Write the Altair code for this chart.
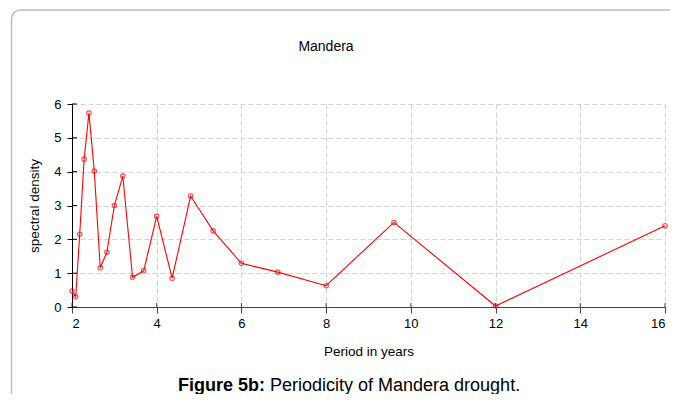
import altair as alt
import pandas as pd

# Periods (years) and spectral density values
periods = [2.0, 2.087, 2.182, 2.286, 2.4, 2.526, 2.667, 2.824, 3.0, 3.2, 3.429,
           3.692, 4.0, 4.364, 4.8, 5.333, 6.0, 6.857, 8.0, 9.6, 12.0, 16.0]
density = [0.47, 0.30, 2.15, 4.37, 5.73, 4.02, 1.16, 1.62, 3.0, 3.87, 0.88,
           1.07, 2.68, 0.85, 3.28, 2.25, 1.29, 1.03, 0.63, 2.5, 0.03, 2.40]
x_ticks = [2, 4, 6, 8, 10, 12, 14, 16]
y_ticks = [0, 1, 2, 3, 4, 5, 6]

title_text = "Mandera"
x_title = "Period in years"
y_title = "spectral density"
caption_bold = "Figure 5b:"
caption_rest = "Periodicity of Mandera drought."

W, H = 593, 203
FONT = "Liberation Sans"
RED = "#ff0000"

df = pd.DataFrame({"period": periods, "density": density})
xt = pd.DataFrame({"v": x_ticks})
yt = pd.DataFrame({"v": y_ticks})
one = pd.DataFrame({"k": [0]})

xscale = alt.Scale(domain=[2, 16], nice=False, zero=False)
yscale = alt.Scale(domain=[0, 6], nice=False)

x_axis = alt.Axis(values=x_ticks, title=x_title, grid=True, gridColor="#d2d2d2",
                  gridDash=[5, 3], gridWidth=1, domainColor="#444", tickColor="#444",
                  tickSize=6, labelPadding=4, labelFont=FONT, labelFontSize=13,
                  labelColor="#000", labelOverlap=False, titleFont=FONT, titleFontSize=13.5,
                  titleFontWeight="normal", titleColor="#000",
                  titleBaseline="alphabetic", titleY=48)
y_axis = alt.Axis(values=y_ticks, title=y_title, grid=True, gridColor="#d2d2d2",
                  gridDash=[5, 3], gridWidth=1, domainColor="#000", tickColor="#000",
                  tickSize=5, labelPadding=6, labelFont=FONT, labelFontSize=13,
                  labelColor="#000", labelOverlap=False, titleFont=FONT, titleFontSize=13.5,
                  titleFontWeight="normal", titleColor="#000",
                  titleBaseline="alphabetic", titleX=-34, titleAngle=270)

frame = alt.Chart(one).mark_rect(fill="transparent", stroke="#bdbdbd", strokeWidth=1.5,
                                 cornerRadius=9).encode(
    x=alt.value(-60.5), x2=alt.value(1500), y=alt.value(-94), y2=alt.value(420))
cover = alt.Chart(one).mark_rect(fill="#ffffff", stroke="transparent").encode(
    x=alt.value(595), x2=alt.value(640), y=alt.value(-92), y2=alt.value(420))

line = alt.Chart(df).mark_line(color=RED, strokeWidth=1.1).encode(
    x=alt.X("period:Q", scale=xscale, axis=x_axis),
    y=alt.Y("density:Q", scale=yscale, axis=y_axis),
)
points = alt.Chart(df).mark_point(shape="circle", filled=False, color=RED, size=20,
                                  strokeWidth=1.1).encode(
    x=alt.X("period:Q", scale=xscale, axis=x_axis),
    y=alt.Y("density:Q", scale=yscale, axis=y_axis),
)

xin = alt.Chart(xt).mark_rule(color="#444", strokeWidth=1).encode(
    x=alt.X("v:Q", scale=xscale, axis=x_axis), y=alt.value(H - 4), y2=alt.value(H))
yin = alt.Chart(yt).mark_rule(color="#000", strokeWidth=1).encode(
    y=alt.Y("v:Q", scale=yscale, axis=y_axis), x=alt.value(0), x2=alt.value(5))

title = alt.Chart(one).mark_text(text=title_text, font=FONT, fontSize=14, color="#000",
                                 align="center", baseline="alphabetic").encode(
    x=alt.value(254), y=alt.value(-53))

cap1 = alt.Chart(one).mark_text(text=caption_bold, font=FONT, fontSize=18, fontWeight="bold",
                                color="#000", align="left", baseline="alphabetic").encode(
    x=alt.value(106), y=alt.value(287))
cap2 = alt.Chart(one).mark_text(text=caption_rest, font=FONT, fontSize=18, color="#000",
                                align="left", baseline="alphabetic").encode(
    x=alt.value(198), y=alt.value(287))

chart = alt.layer(frame, cover, line, points, xin, yin, title, cap1, cap2).properties(
    width=W, height=H,
    autosize=alt.AutoSizeParams(type="none"),
    padding={"left": 64, "top": 96, "right": 5, "bottom": 87},
).configure_view(stroke="transparent").configure_axis(labelOverlap=False)

chart.save("out.html", embed_options={"renderer": "svg", "actions": False})
